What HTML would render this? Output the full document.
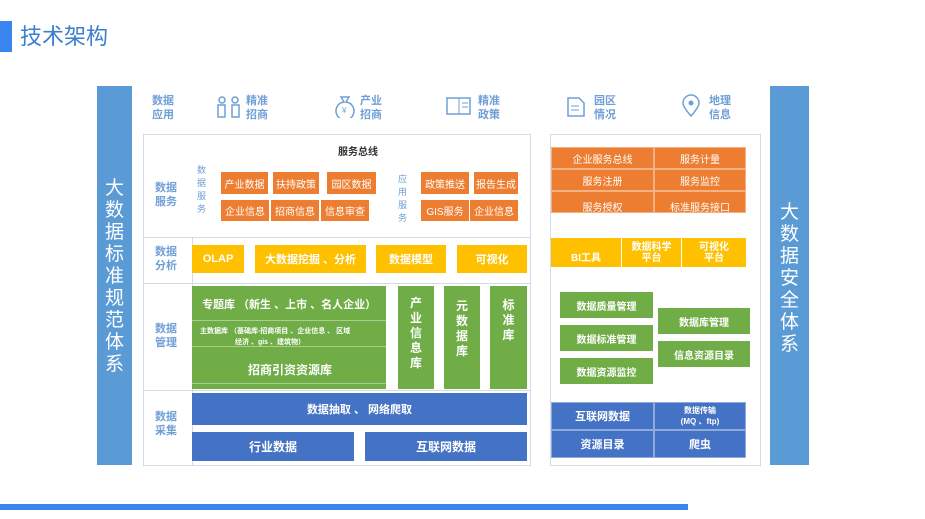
<!DOCTYPE html>
<html><head><meta charset="utf-8"><style>
*{margin:0;padding:0;box-sizing:border-box}
body{width:925px;height:519px;background:#fff;position:relative;overflow:hidden;font-family:"Liberation Sans","Noto Sans CJK SC",sans-serif}
.a{position:absolute}
.c{position:absolute;display:flex;align-items:center;justify-content:center;text-align:center;color:#fff}
.o{background:#ed7d31;font-size:10px}
.y{background:#ffc000;font-size:11px;font-weight:bold}
.g{background:#70ad47;font-weight:bold}
.b{background:#4472c4;font-weight:bold;font-size:12px}
.lbl{position:absolute;color:#6f9fd6;font-size:11px;font-weight:bold;line-height:14px;text-align:center}
.vb{position:absolute;background:#5b9bd5;color:#fff;font-size:19px;line-height:22px;text-align:center}
.ln{position:absolute;border:1px solid #cfdcea}
</style></head><body>
<div class="a" style="left:0;top:21px;width:12px;height:31px;background:#3a86f0"></div>
<div class="a" style="left:20px;top:21px;font-size:22px;color:#3c7ed0;line-height:31px">技术架构</div>
<div class="a" style="left:0;top:504px;width:688px;height:6px;background:#3a86f0"></div>

<div class="vb" style="left:97px;top:86px;width:35px;height:379px;padding-top:92px">大<br>数<br>据<br>标<br>准<br>规<br>范<br>体<br>系</div>
<div class="vb" style="left:770px;top:86px;width:39px;height:379px;padding-top:116px">大<br>数<br>据<br>安<br>全<br>体<br>系</div>

<!-- app row -->
<div class="lbl" style="left:152px;top:94px">数据<br>应用</div>
<svg class="a" style="left:216px;top:96px" width="26" height="22"><circle cx="6" cy="4" r="3" fill="none" stroke="#6f9fd6" stroke-width="1.5"/><circle cx="19" cy="4" r="3" fill="none" stroke="#6f9fd6" stroke-width="1.5"/><rect x="2" y="9" width="7" height="12" fill="none" stroke="#6f9fd6" stroke-width="1.5"/><rect x="16" y="9" width="7" height="12" fill="none" stroke="#6f9fd6" stroke-width="1.5"/></svg>
<div class="lbl" style="left:246px;top:94px">精准<br>招商</div>
<svg class="a" style="left:334px;top:94px" width="22" height="24"><path d="M7 3h8l-3 5a9 9 0 1 1-2 0z" fill="none" stroke="#6f9fd6" stroke-width="1.5"/><text x="8" y="19" font-size="8" fill="#6f9fd6">¥</text></svg>
<div class="lbl" style="left:360px;top:94px">产业<br>招商</div>
<svg class="a" style="left:446px;top:96px" width="26" height="20"><rect x="1" y="2" width="23" height="16" fill="none" stroke="#6f9fd6" stroke-width="1.5"/><path d="M13 2v16M16 7h6M16 11h6" stroke="#6f9fd6"/></svg>
<div class="lbl" style="left:478px;top:94px">精准<br>政策</div>
<svg class="a" style="left:565px;top:96px" width="22" height="22"><path d="M3 2h11l5 5v13H3z" fill="none" stroke="#6f9fd6" stroke-width="1.5"/><path d="M6 10h8M6 14h8" stroke="#6f9fd6"/></svg>
<div class="lbl" style="left:594px;top:94px">园区<br>情况</div>
<svg class="a" style="left:680px;top:94px" width="22" height="26"><path d="M11 22C4 14 3 11 3 9a8 8 0 0 1 16 0c0 2-1 5-8 13z" fill="none" stroke="#6f9fd6" stroke-width="1.5"/><circle cx="11" cy="9" r="2.5" fill="#6f9fd6"/></svg>
<div class="lbl" style="left:709px;top:94px">地理<br>信息</div>

<!-- left panel frame -->
<div class="ln" style="left:143px;top:134px;width:388px;height:332px"></div>
<div class="ln" style="left:143px;top:237px;width:388px;height:0;border-width:1px 0 0"></div>
<div class="ln" style="left:143px;top:283px;width:388px;height:0;border-width:1px 0 0"></div>
<div class="ln" style="left:143px;top:390px;width:388px;height:0;border-width:1px 0 0"></div>
<div class="ln" style="left:192px;top:237px;width:0;height:229px;border-width:0 0 0 1px"></div>
<div class="lbl" style="left:155px;top:181px">数据<br>服务</div>
<div class="lbl" style="left:155px;top:245px">数据<br>分析</div>
<div class="lbl" style="left:155px;top:322px">数据<br>管理</div>
<div class="lbl" style="left:155px;top:410px">数据<br>采集</div>
<div class="a" style="left:338px;top:143px;font-size:10px;font-weight:bold;color:#333">服务总线</div>
<div class="lbl" style="left:197px;top:164px;font-size:9px;line-height:13px;font-weight:normal">数<br>据<br>服<br>务</div>
<div class="lbl" style="left:398px;top:173px;font-size:9px;line-height:13px;font-weight:normal">应<br>用<br>服<br>务</div>
<div class="c o" style="left:221px;top:172px;width:47px;height:22px">产业数据</div>
<div class="c o" style="left:273px;top:172px;width:46px;height:22px">扶持政策</div>
<div class="c o" style="left:327px;top:172px;width:49px;height:22px">园区数据</div>
<div class="c o" style="left:221px;top:200px;width:48px;height:21px">企业信息</div>
<div class="c o" style="left:271px;top:200px;width:48px;height:21px">招商信息</div>
<div class="c o" style="left:321px;top:200px;width:48px;height:21px">信息审查</div>
<div class="c o" style="left:421px;top:172px;width:48px;height:22px">政策推送</div>
<div class="c o" style="left:474px;top:172px;width:44px;height:22px">报告生成</div>
<div class="c o" style="left:421px;top:200px;width:48px;height:21px">GIS服务</div>
<div class="c o" style="left:470px;top:200px;width:48px;height:21px">企业信息</div>

<div class="c y" style="left:192px;top:245px;width:52px;height:28px">OLAP</div>
<div class="c y" style="left:255px;top:245px;width:111px;height:28px">大数据挖掘 、分析</div>
<div class="c y" style="left:376px;top:245px;width:70px;height:28px">数据模型</div>
<div class="c y" style="left:457px;top:245px;width:70px;height:28px">可视化</div>

<div class="a g" style="left:192px;top:286px;width:194px;height:103px"></div>
<div class="a" style="left:192px;top:320px;width:194px;height:1px;background:#a8d08d"></div>
<div class="a" style="left:192px;top:346px;width:194px;height:1px;background:#a8d08d"></div>
<div class="a" style="left:192px;top:383px;width:194px;height:1px;background:#a8d08d"></div>
<div class="a" style="left:202px;top:296px;color:#fff;font-size:11px;font-weight:bold">专题库 （新生 、上市 、名人企业）</div>
<div class="a" style="left:200px;top:326px;color:#fff;font-size:7px;font-weight:bold;line-height:11px">主数据库 （基础库-招商项目 、企业信息 、 区域<br>　　　　　经济 、gis 、建筑物）</div>
<div class="a" style="left:248px;top:361px;color:#fff;font-size:12px;font-weight:bold">招商引资资源库</div>
<div class="c g" style="left:398px;top:286px;width:36px;height:103px;font-size:12px;line-height:15px;padding-bottom:8px">产<br>业<br>信<br>息<br>库</div>
<div class="c g" style="left:444px;top:286px;width:36px;height:103px;font-size:12px;line-height:15px;padding-bottom:18px">元<br>数<br>据<br>库</div>
<div class="c g" style="left:490px;top:286px;width:37px;height:103px;font-size:12px;line-height:15px;padding-bottom:34px">标<br>准<br>库</div>

<div class="c b" style="left:192px;top:393px;width:335px;height:32px;font-size:11px">数据抽取 、 网络爬取</div>
<div class="c b" style="left:192px;top:432px;width:162px;height:29px">行业数据</div>
<div class="c b" style="left:365px;top:432px;width:162px;height:29px">互联网数据</div>

<!-- right panel -->
<div class="ln" style="left:550px;top:134px;width:211px;height:332px"></div>
<div class="c o" style="left:551px;top:147px;width:103px;height:22px;border:1px solid #f4b183">企业服务总线</div>
<div class="c o" style="left:654px;top:147px;width:92px;height:22px;border:1px solid #f4b183">服务计量</div>
<div class="c o" style="left:551px;top:169px;width:103px;height:22px;border:1px solid #f4b183">服务注册</div>
<div class="c o" style="left:654px;top:169px;width:92px;height:22px;border:1px solid #f4b183">服务监控</div>
<div class="c o" style="left:551px;top:191px;width:103px;height:22px;border:1px solid #f4b183;padding-top:8px">服务授权</div>
<div class="c o" style="left:654px;top:191px;width:92px;height:22px;border:1px solid #f4b183;padding-top:8px">标准服务接口</div>
<div class="c y" style="left:551px;top:238px;width:70px;height:29px;padding-top:8px;font-size:10px">BI工具</div>
<div class="c y" style="left:622px;top:238px;width:59px;height:29px;font-size:10px;line-height:11px">数据科学<br>平台</div>
<div class="c y" style="left:682px;top:238px;width:64px;height:29px;font-size:10px;line-height:11px">可视化<br>平台</div>
<div class="c g" style="left:560px;top:292px;width:93px;height:26px;font-size:10px">数据质量管理</div>
<div class="c g" style="left:560px;top:325px;width:93px;height:26px;font-size:10px">数据标准管理</div>
<div class="c g" style="left:560px;top:358px;width:93px;height:26px;font-size:10px">数据资源监控</div>
<div class="c g" style="left:658px;top:308px;width:92px;height:26px;font-size:10px">数据库管理</div>
<div class="c g" style="left:658px;top:341px;width:92px;height:26px;font-size:10px">信息资源目录</div>
<div class="c b" style="left:551px;top:402px;width:103px;height:28px;border:1px solid #8faadc;font-size:11px">互联网数据</div>
<div class="c b" style="left:654px;top:402px;width:92px;height:28px;border:1px solid #8faadc;font-size:8px;line-height:11px">数据传输<br>(MQ 、ftp)</div>
<div class="c b" style="left:551px;top:430px;width:103px;height:28px;border:1px solid #8faadc;font-size:11px">资源目录</div>
<div class="c b" style="left:654px;top:430px;width:92px;height:28px;border:1px solid #8faadc;font-size:11px">爬虫</div>
</body></html>
